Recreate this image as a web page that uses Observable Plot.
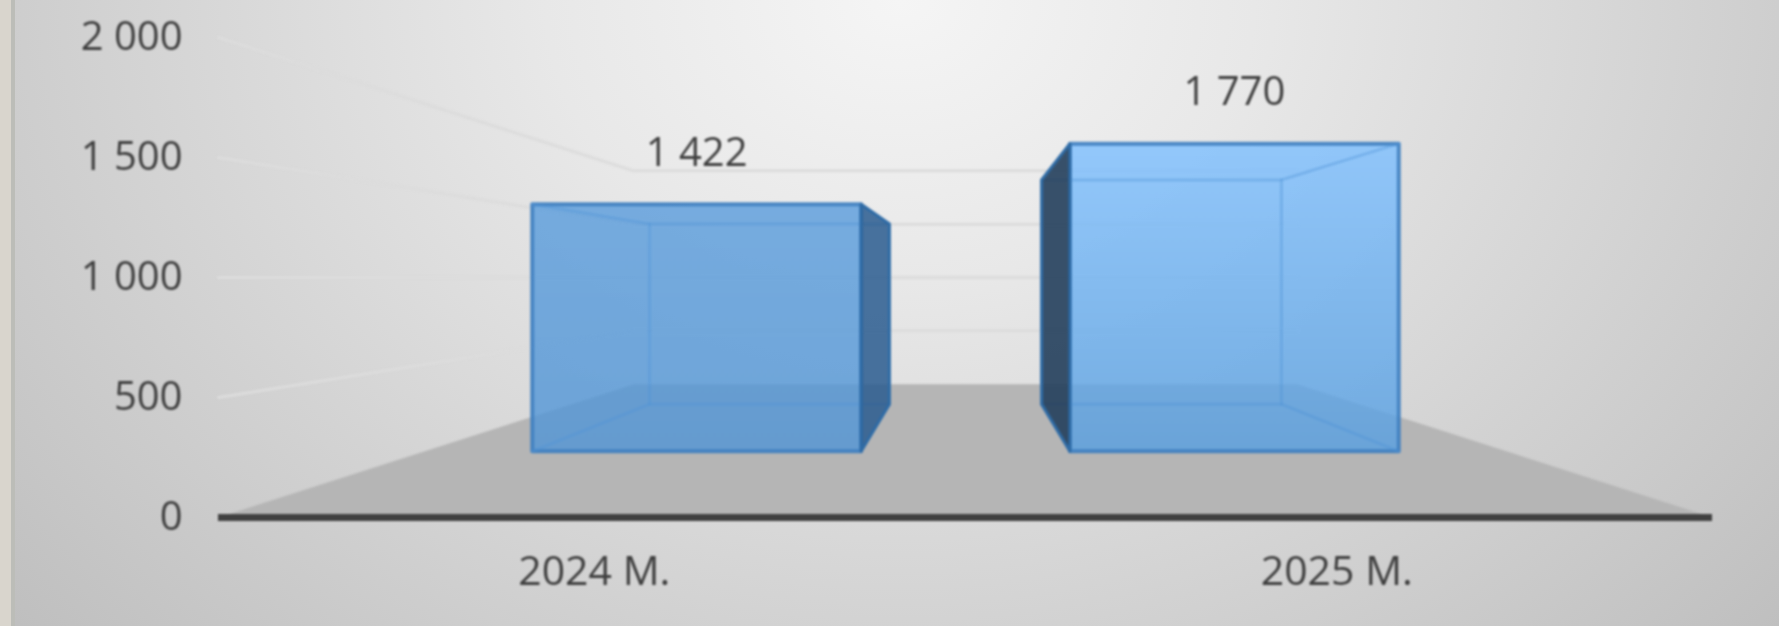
<!DOCTYPE html>
<html>
<head>
<meta charset="utf-8">
<script src="https://cdn.jsdelivr.net/npm/d3@7"></script>
<script src="https://cdn.jsdelivr.net/npm/@observablehq/plot@0.6"></script>
<style>
html,body{margin:0;padding:0;width:1779px;height:626px;overflow:hidden;}
body{background:
  linear-gradient(to right,#d9d5cd 0,#d9d5cd 11px,#bcbdb8 11px,#bcbdb8 15px,transparent 15px),
  radial-gradient(ellipse 1180px 940px at 900px 0px,#f5f5f5 0%,#e8e8e8 30%,#bfbfbf 100%);}
svg{display:block;filter:blur(0.8px);}
</style>
</head>
<body>
<script>
const categories = ["2024 M.", "2025 M."];
const values = [1422, 1770];
const tickValues = [0, 500, 1000, 1500, 2000];
const slotCentres = [0.503, 1.497];
const barHalfWidth = 0.304;

// 3D view of the chart: depth 0 is the front plane, where the axes lie.
const eyeX = 1, eyeValue = 1000;
const depthBarFront = 0.381, depthBarBack = 0.894, depthWall = 1.25;
const project = (x, v, d) => {
  const s = 1 / (1 + d);
  return {x: eyeX + s * (x - eyeX), y: eyeValue + s * (v - eyeValue)};
};
const poly = (corners) => [...corners, corners[0]].map(([x, v, d]) => project(x, v, d));
const path = (corners) => corners.map(([x, v, d]) => project(x, v, d));

const fmt = d3.formatLocale({decimal: ",", thousands: " ", grouping: [3], currency: ["", ""]}).format(",d");

const textColor = "#3f3f3f";
const fontFamily = "'Open Sans', sans-serif";
const fontSize = 40;
const gradients = [["#599cdc", "#5195d6"], ["#7dbfff", "#579fe1"]];

const defs = () => {
  const d = d3.create("svg:defs");
  gradients.forEach(([a, b], i) => {
    const g = d.append("linearGradient").attr("id", "bar" + i).attr("x1", 0).attr("y1", 0).attr("x2", 0).attr("y2", 1);
    g.append("stop").attr("offset", 0).attr("stop-color", a);
    g.append("stop").attr("offset", 1).attr("stop-color", b);
  });
  return d.node();
};

const marks = [defs];

// floor
marks.push(Plot.line(poly([[0, 0, 0], [2, 0, 0], [2, 0, depthWall], [0, 0, depthWall]]),
  {x: "x", y: "y", fill: "#b5b5b5", stroke: "none", curve: "linear"}));

// gridlines along the left wall and the back wall
for (const t of tickValues.slice(1)) {
  marks.push(Plot.line(path([[0, t, 0], [0, t, depthWall], [2, t, depthWall]]),
    {x: "x", y: "y", stroke: "#dcdcdc", strokeWidth: 3, curve: "linear"}));
}

// axis baseline
marks.push(Plot.ruleY([0], {stroke: "#404040", strokeWidth: 7}));

// bars
values.forEach((v, i) => {
  const x0 = slotCentres[i] - barHalfWidth, x1 = slotCentres[i] + barHalfWidth;
  const sideX = i === 0 ? x1 : x0;
  const f = depthBarFront, b = depthBarBack;
  const side = [[sideX, 0, f], [sideX, v, f], [sideX, v, b], [sideX, 0, b]];
  marks.push(Plot.line(poly([[x0, 0, f], [x0, v, f], [x1, v, f], [x1, 0, f]]), {
    x: "x", y: "y", curve: "linear",
    fill: `url(#bar${i})`, fillOpacity: 0.8, stroke: "#3f80c0", strokeOpacity: 0.9, strokeWidth: 4
  }));
  // back edges seen through the front
  marks.push(Plot.line(poly([[x0, 0, b], [x0, v, b], [x1, v, b], [x1, 0, b]]), {
    x: "x", y: "y", curve: "linear", stroke: "#4f94d8", strokeOpacity: 0.4, strokeWidth: 3
  }));
  for (const [cx, cv] of [[x0, 0], [x0, v], [x1, v], [x1, 0]]) {
    marks.push(Plot.line(path([[cx, cv, f], [cx, cv, b]]), {
      x: "x", y: "y", curve: "linear", stroke: "#4f94d8", strokeOpacity: 0.4, strokeWidth: 3
    }));
  }
  marks.push(Plot.line(poly(side), {
    x: "x", y: "y", curve: "linear",
    fill: i === 0 ? "#2a5c8f" : "#233f5c", fillOpacity: i === 0 ? 0.85 : 0.9,
    stroke: "#2f6ba5", strokeWidth: 3
  }));
});

// value labels
const labelPts = values.map((v, i) => ({...project(slotCentres[i], v, depthBarFront), label: fmt(v)}));
marks.push(Plot.text(labelPts, {
  x: "x", y: "y", text: "label", dy: -51, fontSize, fontFamily, fill: textColor
}));

// axes
marks.push(Plot.axisY(tickValues, {
  anchor: "left", tickSize: 0, tickPadding: 36, tickFormat: fmt, label: null,
  fontSize, fontFamily, fill: textColor, dy: 0
}));
marks.push(Plot.axisX(slotCentres, {
  anchor: "bottom", tickSize: 0, tickPadding: 38, label: null,
  tickFormat: (d) => categories[slotCentres.indexOf(d)],
  fontSize: 41, fontFamily, fill: textColor
}));

const chart = Plot.plot({
  width: 1779, height: 626,
  marginLeft: 218, marginRight: 67, marginTop: 37, marginBottom: 109,
  x: {domain: [0, 2]},
  y: {domain: [0, 2000]},
  style: {background: "transparent", overflow: "visible"},
  marks
});
document.body.appendChild(chart);
</script>
</body>
</html>
